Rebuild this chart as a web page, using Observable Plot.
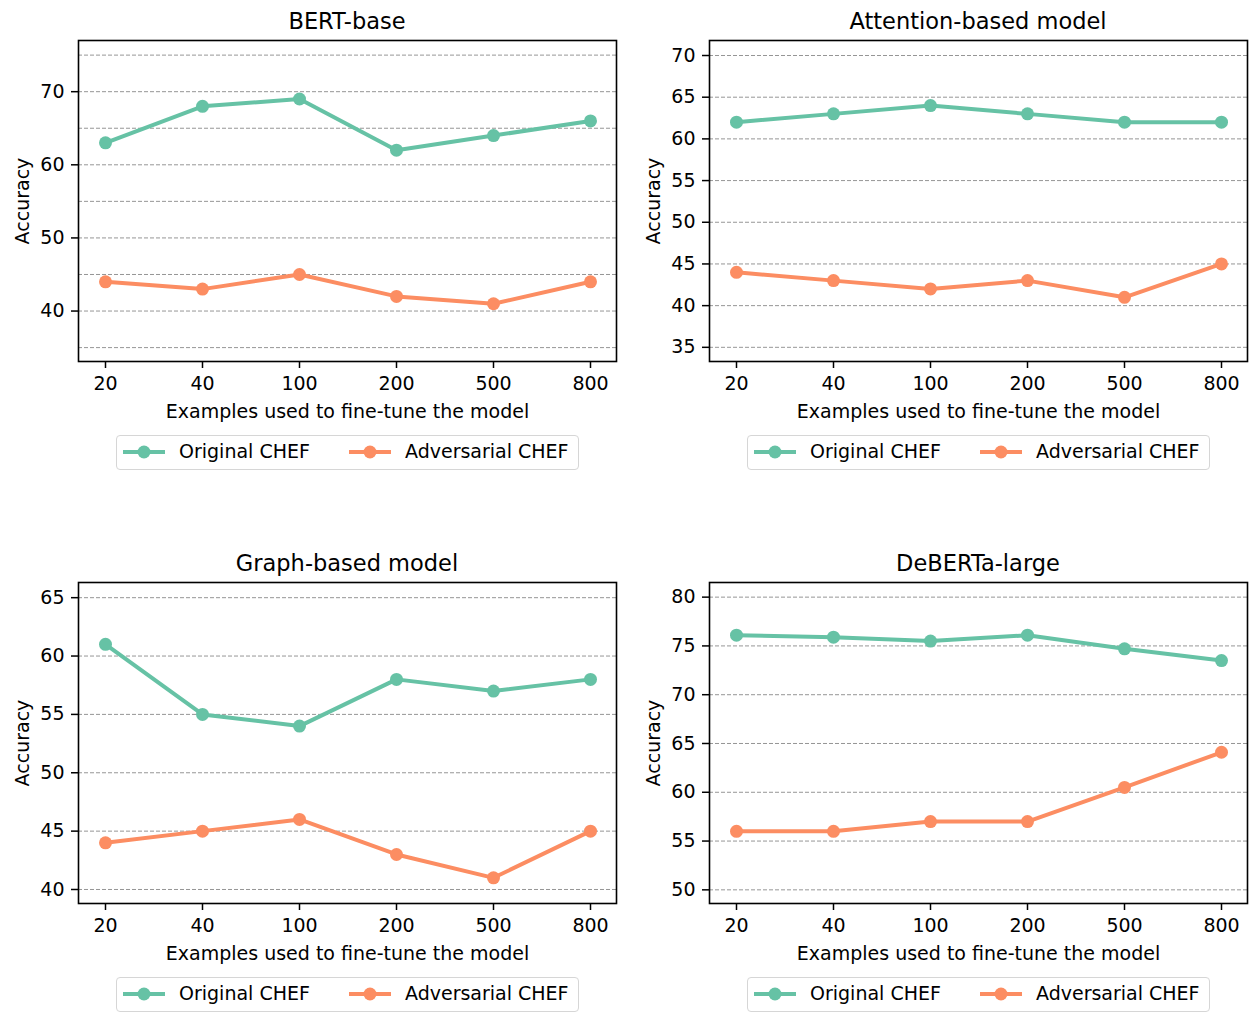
<!DOCTYPE html>
<html>
<head>
<meta charset="utf-8">
<script src="https://cdn.jsdelivr.net/npm/d3@7"></script>
<script src="https://cdn.jsdelivr.net/npm/@observablehq/plot@0.6"></script>
<style>
  body { margin: 0; background: #fff; font-family: "DejaVu Sans", sans-serif; color: #000; }
  #root { position: relative; width: 1255px; height: 1025px; overflow: hidden; }
  .panel { position: absolute; width: 630px; }
  .panel svg { max-width: none !important; }
  .title { position: absolute; font-size: 22.5px; line-height: 22px; white-space: nowrap; transform: translateX(-50%); }
  .legend { position: absolute; box-sizing: border-box; border: 1.5px solid #d6d6d6; border-radius: 4px; background: #fff; }
  .legend span { position: absolute; font-size: 19px; line-height: 19px; white-space: nowrap; }
  .legend svg { position: absolute; overflow: visible; }
</style>
</head>
<body>
<div id="root"></div>
<script>
// ---- data ----
const examples = ["20", "40", "100", "200", "500", "800"];
const seriesNames = ["Original CHEF", "Adversarial CHEF"];
const seriesColors = ["#66c2a5", "#fc8d62"];
const panelTitles = ["BERT-base", "Attention-based model", "Graph-based model", "DeBERTa-large"];

const bertOriginal = [63, 68, 69, 62, 64, 66];
const bertAdversarial = [44, 43, 45, 42, 41, 44];
const attnOriginal = [62, 63, 64, 63, 62, 62];
const attnAdversarial = [44, 43, 42, 43, 41, 45];
const graphOriginal = [61, 55, 54, 58, 57, 58];
const graphAdversarial = [44, 45, 46, 43, 41, 45];
const debertaOriginal = [76.1, 75.9, 75.5, 76.1, 74.7, 73.5];
const debertaAdversarial = [56, 56, 57, 57, 60.5, 64.1];

const bertTicks = [40, 50, 60, 70];
const bertGrid = [35, 40, 45, 50, 55, 60, 65, 70, 75];
const attnTicks = [35, 40, 45, 50, 55, 60, 65, 70];
const graphTicks = [40, 45, 50, 55, 60, 65];
const debertaTicks = [50, 55, 60, 65, 70, 75, 80];

const bertDomain = [33.1, 77];
const attnDomain = [33.3, 71.8];
const graphDomain = [38.8, 66.3];
const debertaDomain = [48.6, 81.5];

const xLabel = "Examples used to fine-tune the model";
const yLabel = "Accuracy";

// ---- layout ----
const root = document.getElementById("root");
const AX_W = 538, AX_H = 321;

function makePanel(title, orig, adv, ticks, grid, domain, axLeft, axTop) {
  const svgLeft = axLeft < 600 ? 0 : 630;
  const mL = axLeft - svgLeft;
  const W = 630;
  const mR = W - mL - AX_W;
  const mT = 10;
  const mB = 75;
  const rows = [];
  examples.forEach((e, i) => {
    rows.push({x: e, y: orig[i], s: seriesNames[0]});
    rows.push({x: e, y: adv[i], s: seriesNames[1]});
  });
  const chart = Plot.plot({
    width: W,
    height: mT + AX_H + mB,
    marginLeft: mL, marginRight: mR, marginTop: mT, marginBottom: mB,
    style: {fontFamily: "DejaVu Sans", fontSize: "19px", color: "#000", background: "transparent", overflow: "visible"},
    x: {type: "point", domain: examples, padding: 0.25},
    y: {domain: domain},
    color: {domain: seriesNames, range: seriesColors},
    marks: [
      Plot.ruleY(grid, {stroke: "#8a8a8a", strokeWidth: 0.9, strokeDasharray: "4,2"}),
      Plot.line(rows, {x: "x", y: "y", z: "s", stroke: "s", strokeWidth: 4}),
      Plot.dot(rows, {x: "x", y: "y", fill: "s", r: 6.5}),
      Plot.frame({stroke: "#000", strokeWidth: 1.6}),
      Plot.axisX({tickSize: 7, tickPadding: 8, strokeWidth: 1.5, label: xLabel, labelAnchor: "center", labelOffset: 56.5, labelArrow: false}),
      Plot.axisY({ticks: ticks, tickSize: 7, tickPadding: 7, strokeWidth: 1.5, label: yLabel, labelAnchor: "center", labelOffset: 63, labelArrow: false})
    ]
  });
  const wrap = document.createElement("div");
  wrap.className = "panel";
  wrap.style.left = svgLeft + "px";
  wrap.style.top = (axTop - mT) + "px";
  wrap.appendChild(chart);
  root.appendChild(wrap);

  const cx = axLeft + AX_W / 2;
  const t = document.createElement("div");
  t.className = "title";
  t.textContent = title;
  t.style.left = cx + "px";
  t.style.top = (axTop - 29.6) + "px";
  root.appendChild(t);

  // legend
  const lg = document.createElement("div");
  lg.className = "legend";
  const lgLeft = cx - 231;
  const lgTop = axTop + 395;
  lg.style.left = lgLeft + "px";
  lg.style.top = lgTop + "px";
  lg.style.width = "463px";
  lg.style.height = "35px";
  const entryX = [6, 232];
  seriesNames.forEach((name, i) => {
    const sw = d3.create("svg").attr("width", 42).attr("height", 14)
      .style("left", entryX[i] + "px").style("top", "9px");
    sw.append("line").attr("x1", 0).attr("x2", 42).attr("y1", 7).attr("y2", 7)
      .attr("stroke", seriesColors[i]).attr("stroke-width", 4);
    sw.append("circle").attr("cx", 21).attr("cy", 7).attr("r", 6.5).attr("fill", seriesColors[i]);
    lg.appendChild(sw.node());
    const sp = document.createElement("span");
    sp.textContent = name;
    sp.style.left = (entryX[i] + 56) + "px";
    sp.style.top = "6px";
    lg.appendChild(sp);
  });
  root.appendChild(lg);
}

makePanel(panelTitles[0], bertOriginal, bertAdversarial, bertTicks, bertGrid, bertDomain, 78, 40);
makePanel(panelTitles[1], attnOriginal, attnAdversarial, attnTicks, attnTicks, attnDomain, 709, 40);
makePanel(panelTitles[2], graphOriginal, graphAdversarial, graphTicks, graphTicks, graphDomain, 78, 582);
makePanel(panelTitles[3], debertaOriginal, debertaAdversarial, debertaTicks, debertaTicks, debertaDomain, 709, 582);
</script>
</body>
</html>
